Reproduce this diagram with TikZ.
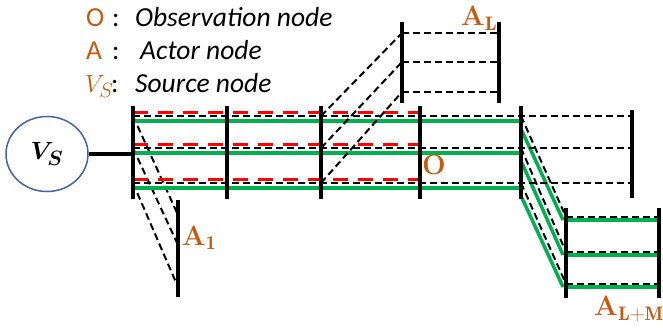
\documentclass[tikz,border=0pt]{standalone}
\usepackage{amsmath}
\usepackage{fontspec}
\setsansfont{Carlito}
\usetikzlibrary{calc, positioning}
\usetikzlibrary{shapes.geometric}
\definecolor{keyorange}{RGB}{197,90,17}
\definecolor{flowgreen}{RGB}{0,176,80}
\definecolor{sourceblue}{RGB}{68,99,160}

\begin{document}
\begin{tikzpicture}[x=1pt,y=-1pt,
  bar/.style={black,line width=3.2pt},
  link/.style={black,line width=2pt,dash pattern=on 7pt off 4pt},
  flow/.style={flowgreen,line width=3.5pt},
  guard/.style={red,line width=3.2pt,dash pattern=on 15pt off 10pt},
  tag/.style={text=keyorange,font=\fontsize{28}{32}\selectfont\bfseries,inner sep=0pt},
  legend/.style={font=\fontsize{27.5}{32}\selectfont\sffamily,inner sep=0pt,anchor=base west}]
\useasboundingbox (0,0) rectangle (663,327);

% rows: main grid, A_L block, A_1 bar, lower block
\foreach \i/\y/\yl/\yb/\yd in {1/116/33/215/217,2/148/62/245/252,3/183/92/287/284} {
  \coordinate (Main\i) at (133,\y);
  \coordinate (Mid\i) at (321,\y);
  \coordinate (Turn\i) at (521,\y);
  \coordinate (Right\i) at (632,\y);
  \coordinate (Up\i) at (402,\yl);
  \coordinate (UpEnd\i) at (499,\yl);
  \coordinate (Low\i) at (178,\yb);
  \coordinate (Down\i) at (566,\yd);
  \coordinate (DownEnd\i) at (659,\yd);
}

\foreach \i in {1,2,3} {
  \draw[link] (Main\i) -- (Right\i);
  \draw[link] (Main\i) -- (Low\i);
  \draw[link] (Mid\i) -- (Up\i);
  \draw[link] (Up\i) -- (UpEnd\i);
  \draw[link] (Turn\i) -- (Down\i);
  \draw[link] (Down\i) -- (DownEnd\i);
  \draw[flow] ($(Main\i)+(0,5)$) -- ($(Turn\i)+(0,5)$);
  \draw[flow] ($(Turn\i)+(1,15)$) -- ($(Down\i)+(-3,3)$);
  \draw[flow] ($(Down\i)+(0,3)$) -- ($(DownEnd\i)+(0,3)$);
  \draw[guard] ($(Main\i)+(0,-3.5)$) -- ($(Main\i)+(287,-3.5)$);
}

\foreach \x in {133,227,321,420,521} \draw[bar] (\x,106) -- (\x,199);
\draw[bar] (632,110) -- (632,198);
\draw[bar] (402,22) -- (402,103);
\draw[bar] (499,22) -- (499,103);
\draw[bar] (178,200) -- (178,297);
\draw[bar] (566,208) -- (566,298);
\draw[bar] (659,208) -- (659,298);

\node[ellipse,draw=sourceblue,line width=1.5pt,minimum width=82pt,minimum height=75pt,
  inner sep=0pt,font=\fontsize{30}{34}\selectfont] (Source) at (47,154) {$\boldsymbol{V_S}$};
\draw[bar] (Source.east) -- (Source.east -| Main2);

\node[tag] (ObsTag) at (434,165) {O};
\node[tag] (LastTag) at (479,18) {A$_{\mathbf{L}}$};
\node[tag] (FirstTag) at (199,238) {A$_{\mathbf{1}}$};
\node[tag] (EndTag) at (629,309) {A$_{\mathbf{L+M}}$};

\node[legend,text=keyorange] (KeyO) at (86,26) {O};
\node[legend] at (112,26) {:};
\node[legend] at (135,26) {\itshape Observation node};
\node[legend,text=keyorange] (KeyA) at (86,59) {A};
\node[legend] at (112,59) {:};
\node[legend] at (140,59) {\itshape Actor node};
\node[legend,text=keyorange,font=\fontsize{30}{34}\selectfont] (KeyV) at (85,92) {$V_S$};
\node[legend] at (111,92) {:};
\node[legend] at (135,92) {\itshape Source node};
\end{tikzpicture}
\end{document}
